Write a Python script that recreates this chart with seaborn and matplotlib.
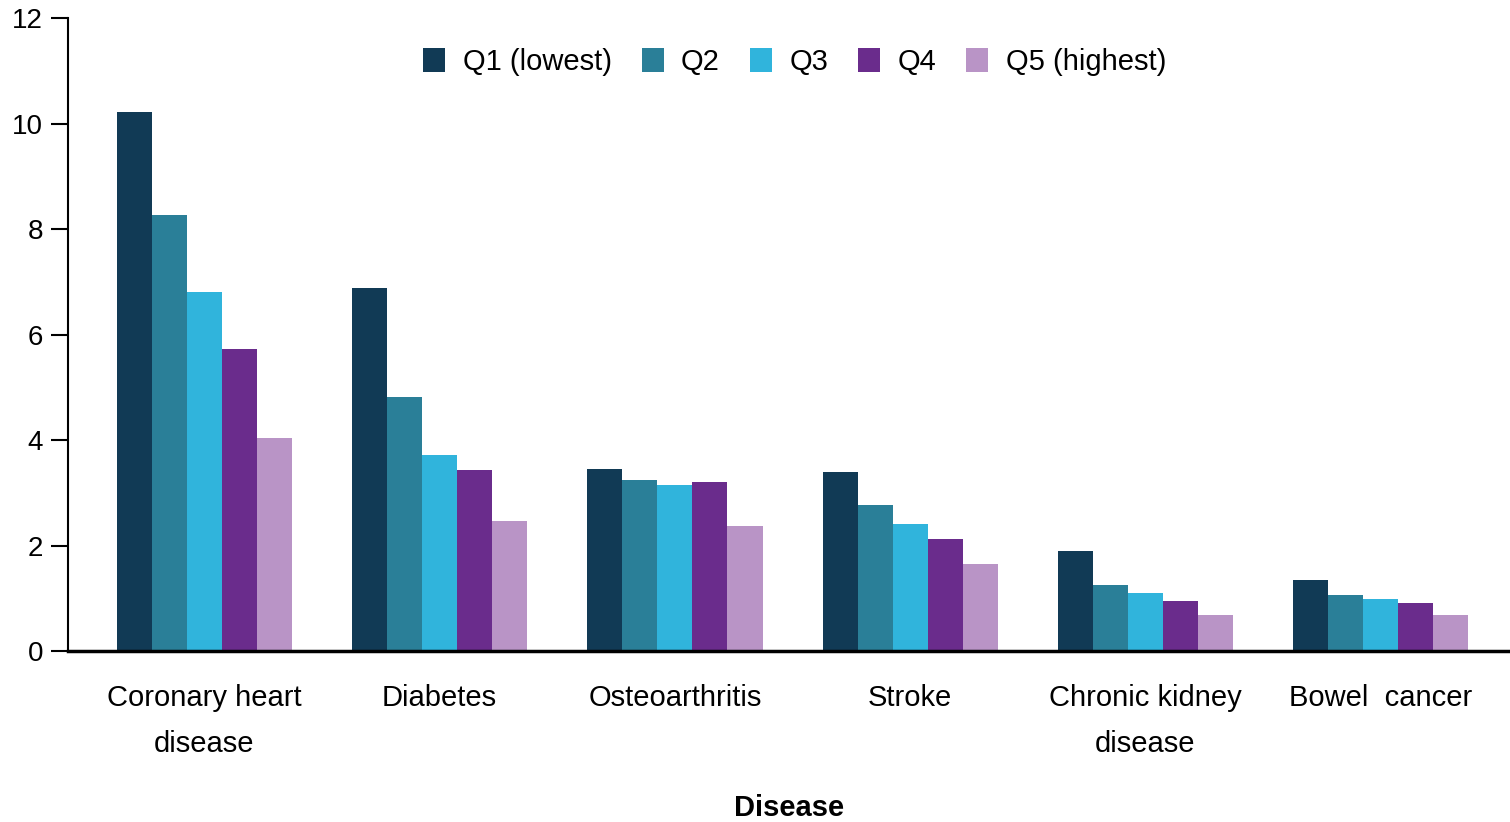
import pandas as pd
import matplotlib
matplotlib.use("Agg")
import matplotlib.pyplot as plt
import seaborn as sns

# =========================================================
# 1. data
# =========================================================
diseases = [
    "Coronary heart\ndisease",
    "Diabetes",
    "Osteoarthritis",
    "Stroke",
    "Chronic kidney\ndisease",
    "Bowel  cancer",
]
quintiles = ["Q1 (lowest)", "Q2", "Q3", "Q4", "Q5 (highest)"]

q1 = [10.22, 6.88, 3.45, 3.39, 1.90, 1.35]
q2 = [8.27, 4.82, 3.24, 2.77, 1.25, 1.06]
q3 = [6.81, 3.72, 3.15, 2.41, 1.10, 0.99]
q4 = [5.73, 3.43, 3.20, 2.12, 0.95, 0.91]
q5 = [4.04, 2.46, 2.37, 1.65, 0.68, 0.68]

colors = ["#113A55", "#2A7F98", "#30B4DC", "#6A2C8C", "#B994C6"]

# long form table for seaborn
rows = []
for q, vals in zip(quintiles, [q1, q2, q3, q4, q5]):
    for d, v in zip(diseases, vals):
        rows.append({"Disease": d, "Quintile": q, "Value": v})
df = pd.DataFrame(rows)

# =========================================================
# 2. style
# =========================================================
sns.set_style("white")
plt.rcParams["font.family"] = ["Liberation Sans", "DejaVu Sans"]
plt.rcParams["text.color"] = "black"
plt.rcParams["axes.labelcolor"] = "black"
plt.rcParams["xtick.color"] = "black"
plt.rcParams["ytick.color"] = "black"

fig = plt.figure(figsize=(15.1, 8.22), dpi=100)
ax = fig.add_axes([68 / 1510, 1 - 651 / 822, (1510 - 68) / 1510, (651 - 18) / 822])

sns.barplot(
    data=df,
    x="Disease",
    y="Value",
    hue="Quintile",
    order=diseases,
    hue_order=quintiles,
    palette=colors,
    width=0.745,
    saturation=1,
    errorbar=None,
    linewidth=0,
    ax=ax,
)

# =========================================================
# 3. axes
# =========================================================
ax.set_ylim(0, 12)
ax.set_xlim(-0.58, 5.55)
ax.set_yticks(range(0, 13, 2))
ax.tick_params(axis="y", direction="out", length=12, width=1.5, labelsize=20, pad=6, left=True)
ax.tick_params(axis="x", length=0, labelsize=21, pad=24)
for lbl in ax.get_xticklabels():
    lbl.set_linespacing(1.8)

for side in ["top", "right"]:
    ax.spines[side].set_visible(False)
ax.spines["left"].set_linewidth(1.5)
ax.spines["bottom"].set_linewidth(2.5)
ax.spines["left"].set_color("black")
ax.spines["bottom"].set_color("black")

ax.set_ylabel("")
ax.set_xlabel("Disease", fontsize=21, fontweight="bold", labelpad=26)

ax.legend(
    loc="center",
    bbox_to_anchor=(0.504, 0.93),
    ncol=5,
    frameon=False,
    fontsize=21,
    handlelength=0.75,
    handleheight=0.9,
    handletextpad=0.6,
    columnspacing=1.03,
)

fig.savefig("out.png", dpi=100)
